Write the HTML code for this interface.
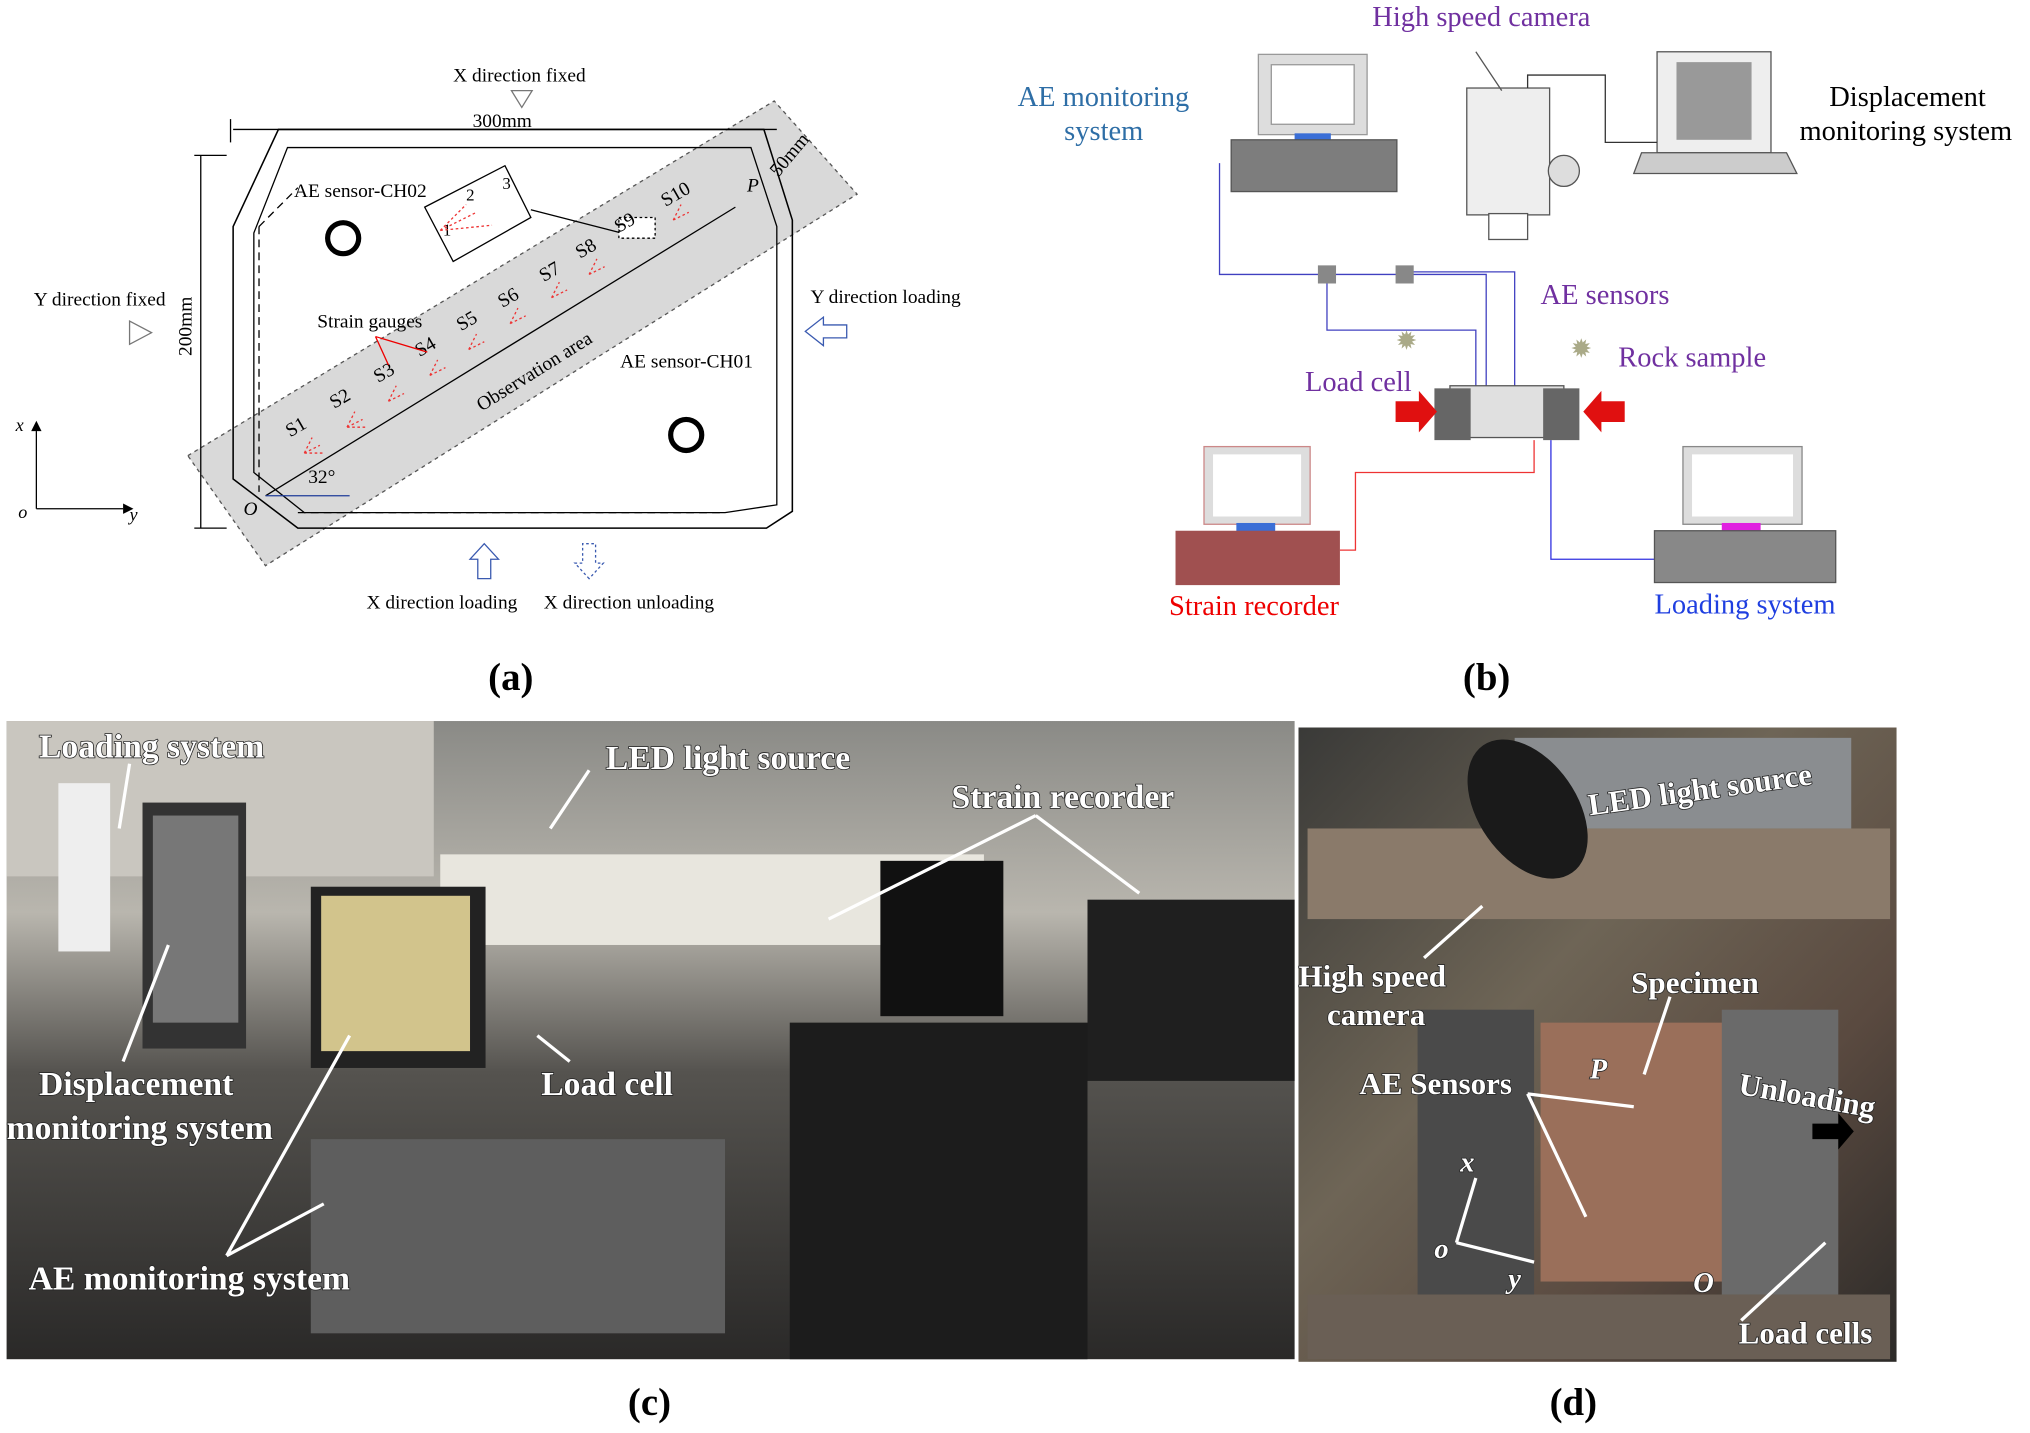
<!DOCTYPE html>
<html><head><meta charset="utf-8"><style>
html,body{margin:0;padding:0;background:#fff;}
svg{display:block}
.t{font-family:"Liberation Serif",serif;}
.w{font-family:"Liberation Serif",serif;font-weight:bold;fill:#fff;stroke:#222;stroke-width:1.2;paint-order:stroke;}
</style></head><body>
<svg width="2030" height="1433" viewBox="0 0 1568 1107" xmlns="http://www.w3.org/2000/svg">
<defs>
<linearGradient id="gc" x1="0" y1="0" x2="0" y2="1">
<stop offset="0" stop-color="#8a8a86"/><stop offset="0.3" stop-color="#b9b6ae"/><stop offset="0.55" stop-color="#55534f"/><stop offset="1" stop-color="#2a2928"/></linearGradient>
<linearGradient id="gd" x1="0" y1="0" x2="1" y2="1">
<stop offset="0" stop-color="#3a3a38"/><stop offset="0.4" stop-color="#6e6556"/><stop offset="0.7" stop-color="#5a4a40"/><stop offset="1" stop-color="#2c2a28"/></linearGradient>
</defs>
<!-- (a) -->
<polygon points="145,352 598,78 662,150 205,437" fill="#d9d9d9" stroke="#555" stroke-dasharray="3,3"/>
<polygon points="215,100 590,100 612,170 612,395 592,408 230,408 180,370 180,175" fill="none" stroke="#000" stroke-width="1.2"/>
<polygon points="222,114 580,114 600,175 600,390 560,396 235,396 196,365 196,180" fill="none" stroke="#000"/>
<line x1="200" y1="175" x2="200" y2="380" stroke="#000" stroke-dasharray="6,4"/>
<line x1="230" y1="396" x2="560" y2="396" stroke="#000" stroke-dasharray="6,4"/>
<line x1="200" y1="175" x2="230" y2="145" stroke="#000" stroke-dasharray="6,4"/>
<line x1="180" y1="100" x2="600" y2="100" stroke="#000"/>
<line x1="178" y1="92" x2="178" y2="110" stroke="#000"/>
<line x1="155" y1="120" x2="155" y2="408" stroke="#000"/>
<line x1="150" y1="120" x2="175" y2="120" stroke="#000"/><line x1="150" y1="408" x2="175" y2="408" stroke="#000"/>
<line x1="205" y1="383" x2="568" y2="160" stroke="#000"/>
<line x1="205" y1="383" x2="270" y2="383" stroke="#1f3d99"/>
<text class="t" x="350" y="63" font-size="15">X direction fixed</text>
<polygon points="395,70 411,70 403,83" fill="#fff" stroke="#777"/>
<text class="t" x="365" y="98" font-size="15">300mm</text>
<text class="t" x="600" y="135" font-size="15" transform="rotate(-50 603 135)">50mm</text>
<text class="t" x="26" y="236" font-size="15">Y direction fixed</text>
<polygon points="100,248 100,266 117,257" fill="#fff" stroke="#777"/>
<text class="t" x="148" y="275" font-size="15" transform="rotate(-90 148 275)">200mm</text>
<text class="t" x="626" y="234" font-size="15">Y direction loading</text>
<polygon points="622,256 636,245 636,251 654,251 654,261 636,261 636,267" fill="#fff" stroke="#3a5ab0"/>
<text class="t" x="227" y="152" font-size="15">AE sensor-CH02</text>
<circle cx="265" cy="184" r="12" fill="none" stroke="#000" stroke-width="4"/>
<text class="t" x="479" y="284" font-size="15">AE sensor-CH01</text>
<circle cx="530" cy="336" r="12" fill="none" stroke="#000" stroke-width="4"/>
<polygon points="328,160 390,128 410,168 350,202" fill="#fff" stroke="#000"/>
<text class="t" x="342" y="182" font-size="13">1</text><text class="t" x="360" y="155" font-size="13">2</text><text class="t" x="388" y="146" font-size="13">3</text>
<line x1="410" y1="162" x2="480" y2="180" stroke="#000"/>
<rect x="478" y="168" width="28" height="16" fill="#fff" stroke="#000" stroke-dasharray="2,2"/>
<g class="t" font-size="15">
<text x="224" y="338" transform="rotate(-30 224 338)">S1</text>
<text x="258" y="316" transform="rotate(-30 258 316)">S2</text>
<text x="292" y="296" transform="rotate(-30 292 296)">S3</text>
<text x="324" y="276" transform="rotate(-30 324 276)">S4</text>
<text x="356" y="256" transform="rotate(-30 356 256)">S5</text>
<text x="388" y="238" transform="rotate(-30 388 238)">S6</text>
<text x="420" y="218" transform="rotate(-30 420 218)">S7</text>
<text x="448" y="200" transform="rotate(-30 448 200)">S8</text>
<text x="478" y="180" transform="rotate(-30 478 180)">S9</text>
<text x="514" y="160" transform="rotate(-30 514 160)">S10</text>
<text x="245" y="253">Strain gauges</text>
<text x="372" y="318" transform="rotate(-32 372 318)">Observation area</text>
<text x="577" y="148" font-style="italic">P</text>
<text x="188" y="398" font-style="italic">O</text>
<text x="238" y="373">32°</text>
</g>
<g stroke="#e33" stroke-width="1" stroke-dasharray="2,2">
<path d="M235,350 l6,-12 M235,350 l12,-6 M235,350 l14,0 M268,330 l6,-12 M268,330 l12,-6 M268,330 l14,0 M300,310 l6,-12 M300,310 l12,-6 M332,290 l6,-12 M332,290 l12,-6 M362,270 l6,-12 M362,270 l12,-6 M394,250 l6,-12 M394,250 l12,-6 M426,230 l6,-12 M426,230 l12,-6 M455,212 l6,-12 M455,212 l12,-6 M520,170 l6,-12 M520,170 l12,-6 M340,178 l20,-20 M340,178 l28,-14 M340,178 l40,-4"/>
</g>
<line x1="290" y1="260" x2="300" y2="282" stroke="#e00"/><line x1="290" y1="260" x2="330" y2="272" stroke="#e00"/>
<line x1="28" y1="393" x2="95" y2="393" stroke="#000"/><polygon points="95,389 103,393 95,397"/>
<line x1="28" y1="393" x2="28" y2="333" stroke="#000"/><polygon points="24,333 28,325 32,333"/>
<text class="t" x="12" y="333" font-size="14" font-style="italic">x</text>
<text class="t" x="14" y="400" font-size="14" font-style="italic">o</text>
<text class="t" x="100" y="402" font-size="14" font-style="italic">y</text>
<polygon points="374,420 363,432 369,432 369,447 379,447 379,432 385,432" fill="#fff" stroke="#3a5ab0"/>
<polygon points="455,447 444,435 450,435 450,420 460,420 460,435 466,435" fill="#fff" stroke="#3a5ab0" stroke-dasharray="2,2"/>
<text class="t" x="283" y="470" font-size="15">X direction loading</text>
<text class="t" x="420" y="470" font-size="15">X direction unloading</text>
<text class="t" x="377" y="533" font-size="30" font-weight="bold">(a)</text>
<!-- (b) -->
<text class="t" x="1060" y="20" font-size="22" fill="#7030a0">High speed camera</text>
<text class="t" x="786" y="82" font-size="22" fill="#2e6ea6">AE monitoring</text>
<text class="t" x="822" y="108" font-size="22" fill="#2e6ea6">system</text>
<text class="t" x="1413" y="82" font-size="22">Displacement</text>
<text class="t" x="1390" y="108" font-size="22">monitoring system</text>
<rect x="972" y="42" width="84" height="62" fill="#ddd" stroke="#999"/><rect x="982" y="50" width="64" height="46" fill="#fff" stroke="#999"/>
<rect x="1000" y="103" width="28" height="6" fill="#3a6ed6"/>
<rect x="951" y="108" width="128" height="40" fill="#7d7d7d" stroke="#555"/>
<rect x="1133" y="68" width="64" height="98" fill="#eee" stroke="#555"/>
<rect x="1150" y="165" width="30" height="20" fill="#fff" stroke="#555"/>
<rect x="1280" y="40" width="88" height="78" fill="#eee" stroke="#555"/><rect x="1295" y="48" width="58" height="60" fill="#999"/>
<polygon points="1268,118 1380,118 1388,134 1262,134" fill="#ccc" stroke="#555"/>
<circle cx="1208" cy="132" r="12" fill="#ddd" stroke="#555"/>
<line x1="1140" y1="40" x2="1160" y2="70" stroke="#555"/>
<path d="M1180,68 L1180,58 L1240,58 L1240,110 L1280,110" fill="none" stroke="#333"/>
<path d="M942,126 L942,212 L1148,212 L1148,300" fill="none" stroke="#4040c0"/>
<path d="M1025,212 L1025,255 L1140,255 L1140,300 M1085,210 L1170,210 L1170,300" fill="none" stroke="#4040c0"/>
<rect x="1018" y="205" width="14" height="14" fill="#888"/><rect x="1078" y="205" width="14" height="14" fill="#888"/>
<text class="t" x="1190" y="235" font-size="22" fill="#7030a0">AE sensors</text>
<text class="t" x="1250" y="283" font-size="22" fill="#7030a0">Rock sample</text>
<text class="t" x="1008" y="302" font-size="22" fill="#7030a0">Load cell</text>
<text class="t" x="1078" y="270" font-size="20" fill="#aa8">✹</text><text class="t" x="1213" y="276" font-size="20" fill="#aa8">✹</text>
<rect x="1120" y="298" width="88" height="40" fill="#e0e0e0" stroke="#555"/>
<rect x="1108" y="300" width="28" height="40" fill="#666"/><rect x="1192" y="300" width="28" height="40" fill="#666"/>
<polygon points="1078,310 1096,310 1096,302 1110,318 1096,334 1096,326 1078,326" fill="#e01010"/>
<polygon points="1255,310 1237,310 1237,302 1223,318 1237,334 1237,326 1255,326" fill="#e01010"/>
<path d="M1185,340 L1185,365 L1047,365 L1047,425 L1035,425" fill="none" stroke="#e33"/>
<path d="M1198,340 L1198,432 L1280,432" fill="none" stroke="#3030e0"/>
<rect x="930" y="345" width="82" height="60" fill="#ddd" stroke="#c88"/><rect x="937" y="351" width="68" height="48" fill="#fff"/>
<rect x="955" y="404" width="30" height="7" fill="#3a6ed6"/>
<rect x="908" y="410" width="127" height="42" fill="#a05050"/>
<text class="t" x="903" y="475" font-size="22" fill="#e00">Strain recorder</text>
<rect x="1300" y="345" width="92" height="60" fill="#ddd" stroke="#888"/><rect x="1307" y="351" width="78" height="48" fill="#fff"/>
<rect x="1330" y="404" width="30" height="7" fill="#e020e0"/>
<rect x="1278" y="410" width="140" height="40" fill="#888" stroke="#555"/>
<text class="t" x="1278" y="474" font-size="22" fill="#1f3fe0">Loading system</text>
<text class="t" x="1130" y="533" font-size="30" font-weight="bold">(b)</text>
<!-- (c) photo -->
<rect x="5" y="557" width="995" height="493" fill="url(#gc)"/>
<rect x="5" y="557" width="330" height="120" fill="#c9c6bf"/>
<rect x="340" y="660" width="420" height="70" fill="#e8e6de"/>
<rect x="45" y="605" width="40" height="130" fill="#eee"/>
<rect x="110" y="620" width="80" height="190" fill="#333"/><rect x="118" y="630" width="66" height="160" fill="#777"/>
<rect x="240" y="685" width="135" height="140" fill="#222"/><rect x="248" y="692" width="115" height="120" fill="#d2c48c"/>
<rect x="240" y="880" width="320" height="150" fill="#5e5e5e"/>
<rect x="610" y="790" width="230" height="260" fill="#1c1c1c"/>
<rect x="680" y="665" width="95" height="120" fill="#111"/>
<rect x="840" y="695" width="160" height="140" fill="#1f1f1f"/>
<text class="w" x="30" y="585" font-size="26">Loading system</text>
<text class="w" x="468" y="594" font-size="26">LED light source</text>
<text class="w" x="735" y="624" font-size="26">Strain recorder</text>
<text class="w" x="30" y="846" font-size="26">Displacement</text>
<text class="w" x="5" y="880" font-size="26">monitoring system</text>
<text class="w" x="418" y="846" font-size="26">Load cell</text>
<text class="w" x="22" y="996" font-size="26">AE monitoring system</text>
<g stroke="#fff" stroke-width="2.5" fill="none"><path d="M100,590 L92,640 M455,595 L425,640 M800,630 L640,710 M800,630 L880,690 M130,730 L95,820 M270,800 L175,970 M250,930 L175,970 M415,800 L440,820"/></g>
<text class="t" x="485" y="1093" font-size="30" font-weight="bold">(c)</text>
<!-- (d) photo -->
<rect x="1003" y="562" width="462" height="490" fill="url(#gd)"/>
<rect x="1170" y="570" width="260" height="70" fill="#8a8d90"/>
<rect x="1010" y="640" width="450" height="70" fill="#8a7a6a"/>
<rect x="1190" y="790" width="150" height="200" fill="#9a6f5a"/>
<rect x="1095" y="780" width="90" height="220" fill="#4a4a4a"/>
<rect x="1330" y="780" width="90" height="220" fill="#6a6a6a"/>
<rect x="1010" y="1000" width="450" height="50" fill="#6a5f55"/>
<ellipse cx="1180" cy="625" rx="38" ry="60" transform="rotate(-35 1180 625)" fill="#1a1a1a"/>
<text class="w" x="1228" y="630" font-size="24" transform="rotate(-8 1228 630)">LED light source</text>
<text class="w" x="1003" y="762" font-size="24">High speed</text>
<text class="w" x="1025" y="792" font-size="24">camera</text>
<text class="w" x="1260" y="767" font-size="24">Specimen</text>
<text class="w" x="1050" y="845" font-size="24">AE Sensors</text>
<text class="w" x="1342" y="845" font-size="24" transform="rotate(10 1342 845)">Unloading</text>
<text class="w" x="1343" y="1038" font-size="24">Load cells</text>
<text class="w" x="1228" y="833" font-size="22" font-style="italic">P</text>
<text class="w" x="1128" y="905" font-size="22" font-style="italic">x</text>
<text class="w" x="1108" y="972" font-size="22" font-style="italic">o</text>
<text class="w" x="1165" y="995" font-size="22" font-style="italic">y</text>
<text class="w" x="1308" y="998" font-size="22" font-style="italic">O</text>
<polygon points="1400,868 1420,868 1420,860 1432,874 1420,888 1420,880 1400,880" fill="#000"/>
<g stroke="#fff" stroke-width="2.5" fill="none"><path d="M1100,740 L1145,700 M1290,770 L1270,830 M1180,845 L1225,940 M1180,845 L1262,855 M1125,960 L1140,910 M1125,960 L1185,975 M1345,1020 L1410,960"/></g>
<text class="t" x="1197" y="1093" font-size="30" font-weight="bold">(d)</text>
</svg>
</body></html>
